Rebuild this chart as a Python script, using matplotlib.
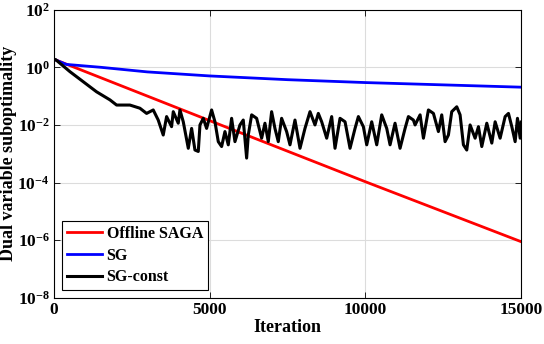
"""
Dual variable suboptimality vs iteration (SAGA / SG / SG-const).
"""

import matplotlib

matplotlib.use("Agg")
import matplotlib.pyplot as plt
import numpy as np

plt.rcParams.update(
    {
        "font.family": "Liberation Serif",
        "font.weight": "bold",
        "font.size": 11,
        "axes.labelweight": "bold",
        "mathtext.fontset": "custom",
        "mathtext.rm": "Liberation Serif:bold",
        "mathtext.it": "Liberation Serif:bold",
        "mathtext.bf": "Liberation Serif:bold",
        "mathtext.default": "rm",
        "axes.unicode_minus": False,
    }
)

COLORS = {"saga": "#ff0000", "sg": "#0000ff", "sgc": "#000000"}

# Offline SAGA (log10 of suboptimality, read at a few iterations)
saga_iter = [0, 5000, 10000, 15000]
saga_log = [0.28, -1.85, -3.97, -6.05]

# SG
sg_iter = [0, 400, 1500, 3000, 5000, 7500, 10000, 12500, 15000]
sg_log = [0.28, 0.10, 0.00, -0.16, -0.30, -0.43, -0.53, -0.61, -0.69]

# SG-const (noisy)
sgc_iter = [
    0, 64, 514, 942, 1370, 1800, 2014, 2441, 2762, 2977, 3190, 3350, 3511,
    3619, 3779, 3833, 3993, 4047, 4154, 4315, 4422, 4529, 4636, 4690, 4797,
    4903, 5064, 5171, 5278, 5385, 5492, 5599, 5706, 5813, 5974, 6080, 6188,
    6241, 6349, 6509, 6670, 6776, 6883, 6990, 7097, 7204, 7311, 7472, 7580,
    7740, 7901, 8061, 8222, 8382, 8489, 8597, 8758, 8918, 9025, 9186, 9347,
    9507, 9668, 9775, 9935, 10043, 10203, 10364, 10524, 10685, 10792, 10952,
    11113, 11274, 11381, 11541, 11595, 11756, 11863, 12023, 12184, 12344,
    12451, 12558, 12665, 12772, 12933, 13040, 13147, 13254, 13361, 13522,
    13629, 13736, 13897, 14058, 14165, 14325, 14486, 14593, 14700, 14807,
    14882, 14968, 15000,
]
sgc_log = [
    0.28, 0.26, -0.15, -0.50, -0.85, -1.13, -1.31, -1.31, -1.42, -1.60, -1.48,
    -1.83, -2.35, -1.71, -2.06, -1.54, -1.94, -1.48, -1.89, -2.81, -2.12,
    -2.87, -2.92, -2.00, -1.77, -2.12, -1.48, -1.89, -2.58, -2.75, -2.23,
    -2.69, -1.77, -2.58, -2.00, -1.83, -3.15, -2.35, -1.65, -1.77, -2.46,
    -1.94, -2.58, -1.54, -2.12, -2.58, -1.77, -2.23, -2.69, -1.83, -2.81,
    -2.12, -1.54, -2.00, -1.60, -1.89, -2.46, -1.71, -2.81, -1.77, -1.89,
    -2.81, -2.12, -1.71, -2.06, -2.69, -1.89, -2.69, -1.65, -2.12, -2.69,
    -1.94, -2.81, -2.12, -1.71, -1.83, -2.00, -1.65, -2.46, -1.48, -1.60,
    -2.23, -1.65, -2.58, -2.35, -1.54, -1.37, -1.65, -2.69, -2.87, -2.00,
    -2.46, -2.06, -2.75, -1.94, -2.63, -1.89, -2.46, -1.71, -1.60, -2.06,
    -2.58, -1.77, -2.46, -1.90,
]

y_exp = [-8, -6, -4, -2, 0, 2]
x_ticks = [0, 5000, 10000, 15000]


def plot_suboptimality(output_path: str):
    fig = plt.figure(figsize=(5.44, 3.44), dpi=100)
    ax = fig.add_axes([0.099, 0.134, 0.859, 0.838])

    ax.semilogy(saga_iter, 10.0 ** np.array(saga_log), color=COLORS["saga"],
                linewidth=2, label="Offline SAGA")
    ax.semilogy(sg_iter, 10.0 ** np.array(sg_log), color=COLORS["sg"],
                linewidth=2, label="SG")
    ax.semilogy(sgc_iter, 10.0 ** np.array(sgc_log), color=COLORS["sgc"],
                linewidth=2.2, label="SG-const")

    ax.set_xlim(0, 15000)
    ax.set_ylim(1e-8, 1e2)
    ax.set_xticks(x_ticks)
    ax.set_xticklabels([str(t) for t in x_ticks])
    ax.set_yticks([10.0 ** e for e in y_exp])
    ax.set_yticklabels([f"10$^{{{e}}}$" for e in y_exp])
    ax.minorticks_off()
    ax.tick_params(direction="in", top=True, right=True, length=4, width=0.6,
                   labelsize=12.5, pad=3)
    for s in ax.spines.values():
        s.set_linewidth(0.8)

    ax.grid(True, color="#dcdcdc", linewidth=0.8)
    ax.set_axisbelow(True)
    ax.set_xlabel("Iteration", fontsize=13, labelpad=1)
    ax.set_ylabel("Dual variable suboptimality", fontsize=13, labelpad=0)

    leg = ax.legend(loc="lower left", fontsize=11.5, handlelength=2.2,
                    handletextpad=0.3, labelspacing=0.35, borderpad=0.3,
                    fancybox=False, framealpha=1, borderaxespad=0.5)
    leg.get_frame().set_edgecolor("black")
    leg.get_frame().set_linewidth(0.8)

    fig.savefig(output_path)
    plt.close(fig)


if __name__ == "__main__":
    plot_suboptimality("out.png")
